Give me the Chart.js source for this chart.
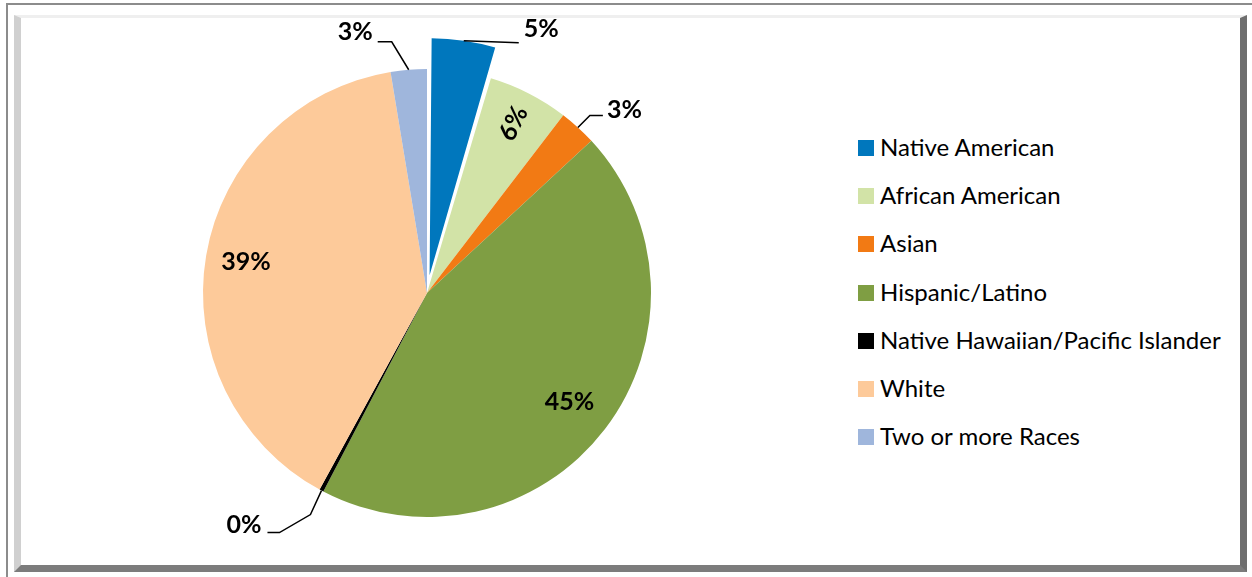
<!DOCTYPE html>
<html>
<head>
<meta charset="utf-8">
<script src="https://cdn.jsdelivr.net/npm/chart.js@4"></script>
<style>
  body { margin: 0; width: 1252px; height: 577px; background: #fff; overflow: hidden; font-family: Lato, sans-serif; }
  .outer { position: absolute; left: 6px; top: 3px; width: 1250px; height: 580px; border-top: 2px solid #8c8c8c; border-left: 2px solid #8c8c8c; }
  .panel { position: absolute; left: 14px; top: 15px; width: 1219px; height: 547px; background: #fff;
           border-left: 7px solid #d0d0d0; border-top: 3px solid #efefef; border-right: 7px solid #6e6e6e; border-bottom: 7px solid #7c7c7c; }
  #wrap { position: absolute; left: 0; top: 0; width: 850px; height: 577px; }
  #legend { position: absolute; left: 858px; top: 140px; margin: 0; padding: 0; list-style: none; }
  #legend li { position: relative; height: 48.2px; font-size: 24px; color: #000; white-space: nowrap; }
  #legend span.box { position: absolute; left: 0; top: 0; width: 16px; height: 16px; }
  #legend span.txt { position: absolute; left: 22px; top: -8px; }
</style>
</head>
<body>
<div class="outer"></div>
<div class="panel"></div>
<div id="wrap"><canvas id="grafico" width="850" height="577"></canvas></div>
<ul id="legend"></ul>
<script>
const categorias = ['Native American', 'African American', 'Asian', 'Hispanic/Latino',
                    'Native Hawaiian/Pacific Islander', 'White', 'Two or more Races'];
const porcentajes = [4.6, 5.8, 2.7, 44.5, 0.3, 39.4, 2.6];
const colores = ['#0077bd', '#d2e3a7', '#f27a14', '#7f9e43', '#000000', '#fdca9a', '#9fb6dc'];
const separacion = [72, 0, 0, 0, 0, 0, 0];

// where each percentage label goes (inside the slice, or outside with a leader line)
const etiquetas = [
    { ruta: [[0, 0], [55, 2]], dx: 5, dy: -6, align: 'left' },
    { dentro: 0.85, girar: true },
    { ruta: [[12, -12], [25, -12]], dx: 4, dy: 3, align: 'left' },
    { dentro: 0.80 },
    { ruta: [[-11, 24], [-42, 42], [-54, 42]], dx: -6, dy: 0, align: 'right' },
    { dentro: 0.82 },
    { ruta: [[-17, -28], [-31, -28]], dx: -5, dy: -2, align: 'right' }
];

const pluginEtiquetas = {
    id: 'etiquetas',
    afterDatasetsDraw(chart) {
        const ctx = chart.ctx;
        const meta = chart.getDatasetMeta(0);
        ctx.save();
        ctx.font = 'bold 25px Lato, sans-serif';
        ctx.fillStyle = '#000';
        ctx.strokeStyle = '#000';
        ctx.lineWidth = 1.5;
        meta.data.forEach((arc, i) => {
            const p = arc.getProps(['x', 'y', 'startAngle', 'endAngle', 'outerRadius', 'circumference'], true);
            const medio = (p.startAngle + p.endAngle) / 2;
            // same shift the arc element applies when it draws an exploded slice
            const t = (arc.options.offset || 0) / 4;
            const fix = 1 - Math.sin(Math.min(Math.PI, p.circumference || 0));
            const radio = p.outerRadius + t * fix;
            const cx = p.x + Math.cos(medio) * t;
            const cy = p.y + Math.sin(medio) * t;
            const texto = Math.round(porcentajes[i]) + '%';
            const cfg = etiquetas[i];
            if (cfg.dentro) {
                const r = p.outerRadius * cfg.dentro;
                ctx.save();
                ctx.translate(cx + Math.cos(medio) * r, cy + Math.sin(medio) * r);
                if (cfg.girar) ctx.rotate(medio);
                ctx.textAlign = 'center';
                ctx.textBaseline = 'middle';
                ctx.fillText(texto, 0, 0);
                ctx.restore();
            } else {
                const ax = cx + Math.cos(medio) * radio;
                const ay = cy + Math.sin(medio) * radio;
                ctx.beginPath();
                ctx.moveTo(ax, ay);
                let last = [ax, ay];
                cfg.ruta.forEach(pt => {
                    last = [ax + pt[0], ay + pt[1]];
                    ctx.lineTo(last[0], last[1]);
                });
                ctx.stroke();
                ctx.textAlign = cfg.align;
                ctx.textBaseline = 'alphabetic';
                ctx.fillText(texto, last[0] + cfg.dx, last[1] + cfg.dy);
            }
        });
        ctx.restore();
    }
};

const ctx = document.getElementById('grafico').getContext('2d');
const myChart = new Chart(ctx, {
    type: 'pie',
    data: {
        labels: categorias,
        datasets: [{
            data: porcentajes,
            backgroundColor: colores,
            borderWidth: 0,
            offset: separacion
        }]
    },
    options: {
        responsive: false,
        animation: false,
        layout: { padding: { left: 4, right: 0, top: 33, bottom: 24 } },
        plugins: { legend: { display: false }, tooltip: { enabled: false } }
    },
    plugins: [pluginEtiquetas]
});

const legend = document.getElementById('legend');
categorias.forEach((c, i) => {
    const li = document.createElement('li');
    li.innerHTML = '<span class="box" style="background:' + colores[i] + '"></span><span class="txt">' + c + '</span>';
    legend.appendChild(li);
});
</script>
</body>
</html>
